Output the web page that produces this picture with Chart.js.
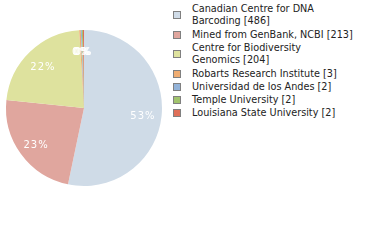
<!DOCTYPE html>
<html><head><meta charset="utf-8">
<script src="https://cdn.jsdelivr.net/npm/chart.js@4"></script>
<style>
body{margin:0;background:#fff;width:380px;height:240px;overflow:hidden;font-family:"DejaVu Sans",sans-serif;}
#wrap{position:absolute;left:0;top:0;width:168px;height:216px;}
#legend{position:absolute;left:173px;top:3px;font-size:9.7px;color:#222;line-height:11.5px;}
.item{position:relative;padding-left:19px;margin-bottom:1.3px;}
.item.two{margin-bottom:3.3px;}
.sw{position:absolute;left:0;top:50%;margin-top:-4px;width:6px;height:6px;border:1px solid #808080;}
</style></head><body>
<div id="wrap"><canvas id="c"></canvas></div>
<div id="legend"></div>
<script>
const categories = ["Canadian Centre for DNA Barcoding","Mined from GenBank, NCBI","Centre for Biodiversity Genomics","Robarts Research Institute","Universidad de los Andes","Temple University","Louisiana State University"];
const legendLines = [["Canadian Centre for DNA","Barcoding [486]"],["Mined from GenBank, NCBI [213]"],["Centre for Biodiversity","Genomics [204]"],["Robarts Research Institute [3]"],["Universidad de los Andes [2]"],["Temple University [2]"],["Louisiana State University [2]"]];
const counts = [486,213,204,3,2,2,2];
const colors = ["#cfdbe7","#e0a69e","#dee29e","#f0ad72","#93b3d9","#a1c46d","#df6f58"];

const lg=document.getElementById('legend');
legendLines.forEach((lines,i)=>{
  const d=document.createElement('div');d.className='item'+(lines.length>1?' two':'');
  const s=document.createElement('span');s.className='sw';s.style.background=colors[i];d.appendChild(s);
  d.appendChild(document.createTextNode(lines[0]));
  for(let k=1;k<lines.length;k++){d.appendChild(document.createElement('br'));d.appendChild(document.createTextNode(lines[k]));}
  lg.appendChild(d);
});

const total=counts.reduce((a,b)=>a+b,0);
const pctPlugin={id:'pct',afterDatasetsDraw(chart){
  const ctx=chart.ctx;const meta=chart.getDatasetMeta(0);
  ctx.save();ctx.fillStyle='#fff';ctx.font='10px "DejaVu Sans"';ctx.textAlign='center';ctx.textBaseline='middle';
  if(ctx.letterSpacing!==undefined)ctx.letterSpacing='1px';
  meta.data.forEach((arc,i)=>{
    const mid=(arc.startAngle+arc.endAngle)/2;
    const r=arc.outerRadius*(counts[i]/total<0.05?0.74:0.76);
    const x=arc.x+Math.cos(mid)*r,y=arc.y+Math.sin(mid)*r+2;
    const t=Math.round(counts[i]/total*100)+'%';
    ctx.fillText(t,x,y);
  });
  ctx.restore();
}};
new Chart(document.getElementById('c'),{
  type:'pie',
  data:{labels:categories,datasets:[{data:counts,backgroundColor:colors,borderWidth:0}]},
  options:{responsive:true,maintainAspectRatio:false,animation:false,
    layout:{padding:{left:6,right:6,top:30,bottom:30}},
    plugins:{legend:{display:false},tooltip:{enabled:false}}},
  plugins:[pctPlugin]
});
</script></body></html>
